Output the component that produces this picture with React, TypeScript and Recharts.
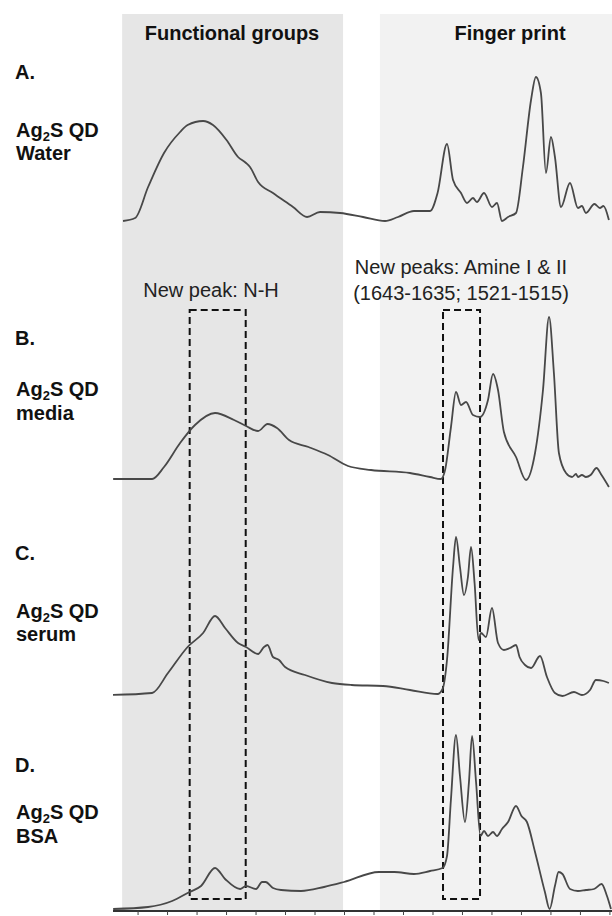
import React from "react"
import { ComposedChart, Line, XAxis, YAxis, ReferenceArea } from "recharts"

// wavenumber (cm-1), relative absorbance
const waterSpectrum = [
  { w: 3902, v: 0.0 }, { w: 3820, v: 0.03 }, { w: 3732, v: 0.34 }, { w: 3624, v: 0.68 },
  { w: 3515, v: 0.89 }, { w: 3464, v: 0.96 }, { w: 3359, v: 1.0 }, { w: 3292, v: 0.96 },
  { w: 3200, v: 0.81 }, { w: 3122, v: 0.64 }, { w: 3068, v: 0.58 }, { w: 3041, v: 0.54 },
  { w: 2986, v: 0.39 }, { w: 2885, v: 0.28 }, { w: 2749, v: 0.14 }, { w: 2654, v: 0.04 },
  { w: 2566, v: 0.09 }, { w: 2430, v: 0.08 }, { w: 2274, v: 0.04 }, { w: 2125, v: 0.0 },
  { w: 2037, v: 0.04 }, { w: 1929, v: 0.1 }, { w: 1820, v: 0.1 }, { w: 1769, v: 0.28 },
  { w: 1705, v: 0.77 }, { w: 1664, v: 0.41 }, { w: 1610, v: 0.28 }, { w: 1569, v: 0.18 },
  { w: 1529, v: 0.23 }, { w: 1502, v: 0.19 }, { w: 1454, v: 0.28 }, { w: 1400, v: 0.14 },
  { w: 1366, v: 0.18 }, { w: 1332, v: 0.0 }, { w: 1291, v: 0.04 }, { w: 1237, v: 0.08 },
  { w: 1190, v: 0.54 }, { w: 1135, v: 1.21 }, { w: 1102, v: 1.44 }, { w: 1068, v: 1.28 },
  { w: 1034, v: 0.48 }, { w: 1000, v: 0.84 }, { w: 973, v: 0.64 }, { w: 932, v: 0.14 },
  { w: 871, v: 0.38 }, { w: 817, v: 0.13 }, { w: 790, v: 0.15 }, { w: 763, v: 0.08 },
  { w: 705, v: 0.17 }, { w: 668, v: 0.13 }, { w: 644, v: 0.15 }, { w: 607, v: 0.01 },
]

const mediaSpectrum = [
  { w: 3969, v: 0.0 }, { w: 3705, v: 0.0 }, { w: 3624, v: 0.12 }, { w: 3515, v: 0.36 },
  { w: 3414, v: 0.54 }, { w: 3278, v: 0.66 }, { w: 3149, v: 0.59 }, { w: 3068, v: 0.53 },
  { w: 2986, v: 0.48 }, { w: 2922, v: 0.55 }, { w: 2858, v: 0.51 }, { w: 2776, v: 0.39 },
  { w: 2644, v: 0.32 }, { w: 2512, v: 0.24 }, { w: 2376, v: 0.13 }, { w: 2220, v: 0.09 },
  { w: 1956, v: 0.06 }, { w: 1820, v: 0.02 }, { w: 1746, v: 0.0 }, { w: 1718, v: 0.09 },
  { w: 1678, v: 0.52 }, { w: 1644, v: 0.87 }, { w: 1610, v: 0.74 }, { w: 1576, v: 0.77 },
  { w: 1529, v: 0.64 }, { w: 1481, v: 0.62 }, { w: 1427, v: 0.79 }, { w: 1393, v: 1.05 },
  { w: 1359, v: 0.89 }, { w: 1319, v: 0.47 }, { w: 1237, v: 0.22 }, { w: 1169, v: -0.01 },
  { w: 1108, v: 0.26 }, { w: 1054, v: 0.89 }, { w: 1013, v: 1.62 }, { w: 980, v: 1.06 },
  { w: 946, v: 0.26 }, { w: 898, v: 0.06 }, { w: 857, v: 0.02 }, { w: 830, v: 0.05 },
  { w: 817, v: 0.02 }, { w: 790, v: 0.04 }, { w: 763, v: 0.02 }, { w: 731, v: 0.04 },
  { w: 691, v: 0.11 }, { w: 657, v: 0.04 }, { w: 607, v: -0.08 },
]

const serumSpectrum = [
  { w: 3983, v: 0.0 }, { w: 3705, v: 0.02 }, { w: 3597, v: 0.22 }, { w: 3464, v: 0.48 },
  { w: 3359, v: 0.62 }, { w: 3278, v: 0.79 }, { w: 3210, v: 0.67 }, { w: 3122, v: 0.52 },
  { w: 3068, v: 0.48 }, { w: 2986, v: 0.41 }, { w: 2946, v: 0.48 }, { w: 2922, v: 0.5 },
  { w: 2885, v: 0.38 }, { w: 2844, v: 0.35 }, { w: 2803, v: 0.28 }, { w: 2668, v: 0.2 },
  { w: 2485, v: 0.12 }, { w: 2352, v: 0.1 }, { w: 2139, v: 0.09 }, { w: 1956, v: 0.05 },
  { w: 1769, v: 0.01 }, { w: 1735, v: 0.06 }, { w: 1705, v: 0.35 }, { w: 1664, v: 1.28 },
  { w: 1644, v: 1.58 }, { w: 1617, v: 1.28 }, { w: 1590, v: 1.0 }, { w: 1563, v: 1.18 },
  { w: 1542, v: 1.48 }, { w: 1518, v: 1.12 }, { w: 1491, v: 0.55 }, { w: 1474, v: 0.62 },
  { w: 1441, v: 0.58 }, { w: 1400, v: 0.87 }, { w: 1359, v: 0.52 }, { w: 1319, v: 0.45 },
  { w: 1278, v: 0.47 }, { w: 1237, v: 0.5 }, { w: 1213, v: 0.38 }, { w: 1176, v: 0.3 },
  { w: 1135, v: 0.27 }, { w: 1074, v: 0.39 }, { w: 1027, v: 0.18 }, { w: 973, v: 0.02 },
  { w: 922, v: -0.01 }, { w: 844, v: 0.03 }, { w: 790, v: 0.0 }, { w: 735, v: 0.05 },
  { w: 695, v: 0.15 }, { w: 644, v: 0.14 }, { w: 607, v: 0.12 },
]

const bsaSpectrum = [
  { w: 3969, v: 0.0 }, { w: 3732, v: 0.02 }, { w: 3569, v: 0.08 }, { w: 3451, v: 0.17 },
  { w: 3373, v: 0.23 }, { w: 3278, v: 0.41 }, { w: 3210, v: 0.3 }, { w: 3108, v: 0.2 },
  { w: 3068, v: 0.23 }, { w: 3000, v: 0.2 }, { w: 2959, v: 0.27 }, { w: 2935, v: 0.27 },
  { w: 2885, v: 0.21 }, { w: 2830, v: 0.19 }, { w: 2695, v: 0.18 }, { w: 2539, v: 0.22 },
  { w: 2403, v: 0.27 }, { w: 2166, v: 0.37 }, { w: 2061, v: 0.37 }, { w: 1929, v: 0.35 },
  { w: 1820, v: 0.38 }, { w: 1735, v: 0.41 }, { w: 1705, v: 0.53 }, { w: 1678, v: 1.1 },
  { w: 1644, v: 1.74 }, { w: 1617, v: 1.33 }, { w: 1583, v: 0.87 }, { w: 1556, v: 1.27 },
  { w: 1535, v: 1.73 }, { w: 1508, v: 1.27 }, { w: 1478, v: 0.73 }, { w: 1454, v: 0.78 },
  { w: 1427, v: 0.73 }, { w: 1393, v: 0.77 }, { w: 1366, v: 0.73 }, { w: 1332, v: 0.8 },
  { w: 1291, v: 0.87 }, { w: 1237, v: 1.03 }, { w: 1200, v: 0.93 }, { w: 1163, v: 0.87 },
  { w: 1108, v: 0.57 }, { w: 1041, v: 0.17 }, { w: 1009, v: 0.0 }, { w: 973, v: 0.23 },
  { w: 948, v: 0.37 }, { w: 922, v: 0.35 }, { w: 871, v: 0.2 }, { w: 817, v: 0.18 },
  { w: 763, v: 0.19 }, { w: 708, v: 0.2 }, { w: 657, v: 0.25 }, { w: 620, v: 0.13 },
  { w: 593, v: 0.0 },
]

const xTicks = [3800, 3600, 3400, 3200, 3000, 2800, 2600, 2400, 2200, 2000, 1800, 1600, 1400, 1200, 1000, 800, 600]
const functionalRange = [3908, 2410]
const fingerprintRange = [2160, 586]
const nhBox = [3450, 3070]
const amineBox = [1732, 1481]

// layout
const W = 612
const H = 916
const PLOT_TOP = 14
const PLOT_BOTTOM = 911
const PX_PER_UNIT = 100
const panels = [
  { id: "a", data: waterSpectrum, base: 221 },
  { id: "b", data: mediaSpectrum, base: 479 },
  { id: "c", data: serumSpectrum, base: 695 },
  { id: "d", data: bsaSpectrum, base: 909 },
]

const lineColor = "#484848"
const font = "'Liberation Sans', Arial, sans-serif"
const bold = { fontFamily: font, fontWeight: 700, fontSize: 20, color: "#111" }
const regular = { fontFamily: font, fontWeight: 400, fontSize: 20, color: "#222" }

function Txt({ x, y, center, style, children }: any) {
  return (
    <div
      style={{
        position: "absolute",
        left: x,
        top: y,
        whiteSpace: "nowrap",
        lineHeight: "22px",
        transform: center ? "translate(-50%, -50%)" : "translateY(-50%)",
        ...style,
      }}
    >
      {children}
    </div>
  )
}

const Ag2S = () => (
  <>
    Ag<span style={{ fontSize: 13, position: "relative", top: 4 }}>2</span>S QD
  </>
)

const NoLabel = () => <g />

export default function App() {
  return (
    <div style={{ position: "absolute", left: 0, top: 0, width: W, height: H, background: "#fff", overflow: "hidden" }}>
      <ComposedChart width={W} height={H} margin={{ top: PLOT_TOP, right: 0, left: 113, bottom: 0 }}>
        <XAxis
          dataKey="w"
          type="number"
          domain={[586, 3970]}
          reversed
          allowDataOverflow
          ticks={xTicks}
          interval={0}
          tick={NoLabel}
          tickSize={4}
          height={H - PLOT_BOTTOM}
          axisLine={{ stroke: "#333", strokeWidth: 2 }}
          tickLine={{ stroke: "#444", strokeWidth: 1 }}
        />
        {panels.map((p) => (
          <YAxis
            key={p.id}
            yAxisId={p.id}
            hide
            type="number"
            allowDataOverflow
            domain={[-(PLOT_BOTTOM - p.base) / PX_PER_UNIT, (p.base - PLOT_TOP) / PX_PER_UNIT]}
          />
        ))}
        <ReferenceArea yAxisId="d" x1={functionalRange[0]} x2={functionalRange[1]} fill="#e6e6e6" fillOpacity={1} stroke="none" />
        <ReferenceArea yAxisId="d" x1={fingerprintRange[0]} x2={fingerprintRange[1]} fill="#f2f2f2" fillOpacity={1} stroke="none" />
        {panels.map((p) => (
          <Line
            key={p.id}
            yAxisId={p.id}
            data={p.data}
            dataKey="v"
            type="monotone"
            stroke={lineColor}
            strokeWidth={1.8}
            dot={false}
            activeDot={false}
            isAnimationActive={false}
          />
        ))}
        <ReferenceArea yAxisId="d" x1={nhBox[0]} x2={nhBox[1]} y1={0.1} y2={5.99} fill="none" fillOpacity={0} stroke="#111" strokeOpacity={1} strokeWidth={2} strokeDasharray="7 4" />
        <ReferenceArea yAxisId="d" x1={amineBox[0]} x2={amineBox[1]} y1={0.1} y2={5.99} fill="none" fillOpacity={0} stroke="#111" strokeOpacity={1} strokeWidth={2} strokeDasharray="7 4" />
      </ComposedChart>

      <Txt x={232} y={33} center style={bold}>Functional groups</Txt>
      <Txt x={510} y={33} center style={bold}>Finger print</Txt>

      <Txt x={211} y={290} center style={regular}>New peak: N-H</Txt>
      <Txt x={461} y={267} center style={regular}>New peaks: Amine I &amp; II</Txt>
      <Txt x={461} y={293} center style={regular}>(1643-1635; 1521-1515)</Txt>

      <Txt x={15} y={72} style={bold}>A.</Txt>
      <Txt x={16} y={131} style={bold}><Ag2S /></Txt>
      <Txt x={16} y={153} style={bold}>Water</Txt>

      <Txt x={15} y={338} style={bold}>B.</Txt>
      <Txt x={16} y={390} style={bold}><Ag2S /></Txt>
      <Txt x={16} y={413} style={bold}>media</Txt>

      <Txt x={15} y={553} style={bold}>C.</Txt>
      <Txt x={16} y={612} style={bold}><Ag2S /></Txt>
      <Txt x={16} y={634} style={bold}>serum</Txt>

      <Txt x={15} y={765} style={bold}>D.</Txt>
      <Txt x={16} y={813} style={bold}><Ag2S /></Txt>
      <Txt x={16} y={836} style={bold}>BSA</Txt>
    </div>
  )
}
